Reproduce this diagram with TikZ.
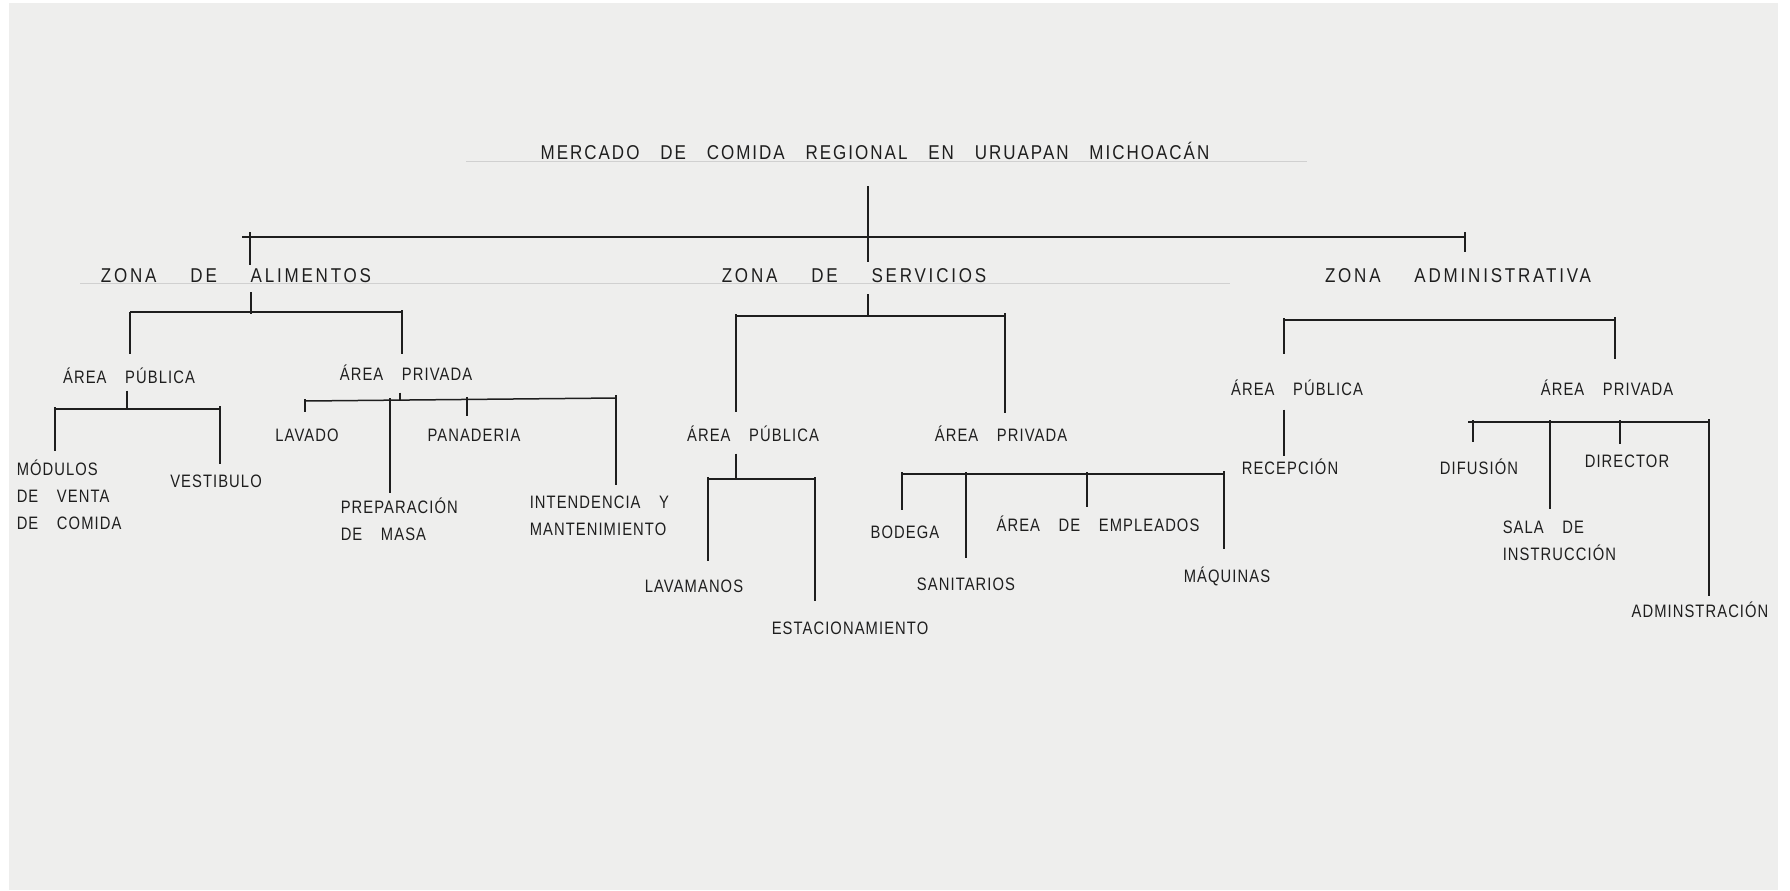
\documentclass[tikz,border=0pt]{standalone}
\usepackage{fontspec}
\setmainfont{Liberation Sans}[FakeStretch=0.82, LetterSpace=6, WordSpace=3.6]
\newfontfamily\handtitle{Liberation Sans}[FakeStretch=0.85, LetterSpace=10, WordSpace=3.1]
\newfontfamily\handwide{Liberation Sans}[FakeStretch=0.85, LetterSpace=14, WordSpace=4.5]
\definecolor{paper}{RGB}{238,238,237}
\definecolor{ink}{RGB}{30,30,30}
\definecolor{guide}{RGB}{208,208,208}
\tikzset{
  lbl/.style={inner sep=0pt, text height=6.45pt, text depth=0pt, text=ink, font=\fontsize{9}{13.5}\selectfont},
  multi/.style={inner sep=0pt, anchor=north west, align=left, text=ink, font=\fontsize{9}{13.5}\selectfont},
  head/.style={inner sep=0pt, text height=7.1pt, text depth=0pt, text=ink, font=\handwide\fontsize{10}{12}\selectfont},
  title/.style={head, font=\handtitle\fontsize{10}{12}\selectfont},
  lift/.style={shorten >=#1},
  drop/.style={shorten <=#1},
}
\begin{document}
\begin{tikzpicture}[x=0.5pt, y=-0.5pt, line width=0.75pt, draw=ink]
  % paper
  \fill[white] (0,0) rectangle (1790,890);
  \fill[paper] (9,3) rectangle (1778,890);
  \useasboundingbox (0,0) rectangle (1790,890);
  % pencil guides
  \draw[guide, line width=0.5pt] (466,161) -- (1307,161);
  \draw[guide, line width=0.5pt] (80,283) -- (1230,283);

  \draw
    (875,152) node[title] (t){MERCADO DE COMIDA REGIONAL EN URUAPAN MICHOACÁN}
    (236,275) node[head] (za){ZONA DE ALIMENTOS}
    (854,275) node[head] (zs){ZONA DE SERVICIOS}
    (1458,275) node[head] (zd){ZONA ADMINISTRATIVA}
    % alimentos
    (129,377) node[lbl] (apub){ÁREA PÚBLICA}
    (406,374) node[lbl] (apri){ÁREA PRIVADA}
    (16,459) node[multi] (mod){MÓDULOS\\DE VENTA\\DE COMIDA}
    (216,481) node[lbl] (vest){VESTIBULO}
    (307,435) node[lbl] (lav){LAVADO}
    (474,435) node[lbl] (pan){PANADERIA}
    (340,497) node[multi] (prep){PREPARACIÓN\\DE MASA}
    (529,495) node[multi] (int){INTENDENCIA Y\\MANTENIMIENTO}
    % servicios
    (753,435) node[lbl] (spub){ÁREA PÚBLICA}
    (1001,435) node[lbl] (spri){ÁREA PRIVADA}
    (694,586) node[lbl] (lavm){LAVAMANOS}
    (850,628) node[lbl] (est){ESTACIONAMIENTO}
    (905,532) node[lbl] (bod){BODEGA}
    (966,584) node[lbl] (san){SANITARIOS}
    (1098,525) node[lbl] (emp){ÁREA DE EMPLEADOS}
    (1227,576) node[lbl] (maq){MÁQUINAS}
    % administrativa
    (1297,389) node[lbl] (dpub){ÁREA PÚBLICA}
    (1607,389) node[lbl] (dpri){ÁREA PRIVADA}
    (1290,468) node[lbl] (rec){RECEPCIÓN}
    (1479,468) node[lbl] (dif){DIFUSIÓN}
    (1627,461) node[lbl] (dir){DIRECTOR}
    (1502,520) node[multi] (sala){SALA DE\\INSTRUCCIÓN}
    (1700,611) node[lbl] (adm){ADMINSTRACIÓN};

  % junctions on the bars
  \coordinate (tl) at (242,237);  \coordinate (tr) at (1465,237);
  \coordinate (ta) at (250,237);  \coordinate (r) at (868,237);
  \coordinate (al) at (130,312);  \coordinate (am) at (251,312);  \coordinate (ar) at (402,312);
  \coordinate (pl) at (55,409);   \coordinate (pm) at (127,409);  \coordinate (pr) at (220,409);
  \coordinate (ql) at (305,401);  \coordinate (qp) at (390,400);  \coordinate (qm) at (400,400);
  \coordinate (qn) at (467,399);  \coordinate (qr) at (616,398);
  \coordinate (sl) at (736,316);  \coordinate (sm) at (868,316);  \coordinate (sr) at (1005,316);
  \coordinate (ul) at (708,479);  \coordinate (um) at (736,479);  \coordinate (ur) at (815,479);
  \coordinate (vl) at (902,474);  \coordinate (vs) at (966,474);
  \coordinate (ve) at (1087,474); \coordinate (vr) at (1224,474);
  \coordinate (dl) at (1284,320); \coordinate (dr) at (1615,320);
  \coordinate (el) at (1468,422); \coordinate (ef) at (1473,422);
  \coordinate (es) at (1550,422); \coordinate (ed) at (1620,422); \coordinate (er) at (1709,422);

  \begin{scope}[-]
    % top level
    \draw[drop=13.25pt, lift=2.75pt] (r |- t.south) -- (r |- zs.north);
    \draw (tl) -- (tr);
    \draw[lift=1.25pt] ([yshift=2.5pt]ta) -- (ta |- za.north);
    \draw[lift=7.75pt] ([yshift=2.5pt]tr) -- (tr |- zd.north);
    % zona de alimentos
    \draw[drop=4.75pt] (am |- za.south) -- ([yshift=-1pt]am);
    \draw (al) -- (ar);
    \draw[lift=7.75pt] (al) -- (al |- apub.north);
    \draw[lift=6.25pt] ([yshift=1pt]ar) -- (ar |- apri.north);
    \draw[drop=3.25pt] (pm |- apub.south) -- (pm);
    \draw (pl) -- (pr);
    \draw[lift=4.25pt] ([yshift=1pt]pl) -- (pl |- mod.north);
    \draw[lift=4.75pt] ([yshift=1.5pt]pr) -- (pr |- vest.north);
    \draw[drop=5.75pt] (qm |- apri.south) -- (qm);
    \draw (ql) -- (qr);
    \draw[lift=7.75pt] ([yshift=1pt]ql) -- (ql |- lav.north);
    \draw[lift=2.25pt] ([yshift=1pt]qp) -- (qp |- prep.north);
    \draw[lift=5.75pt] ([yshift=1pt]qn) -- (qn |- pan.north);
    \draw[lift=5.25pt] ([yshift=1.5pt]qr) -- (qr |- int.north);
    % zona de servicios
    \draw[drop=5.75pt] (sm |- zs.south) -- (sm);
    \draw (sl) -- (sr);
    \draw[lift=7.75pt] ([yshift=1pt]sl) -- (sl |- spub.north);
    \draw[lift=7.25pt] ([yshift=1.5pt]sr) -- (sr |- spri.north);
    \draw[drop=5.75pt] (um |- spub.south) -- (um);
    \draw (ul) -- (ur);
    \draw[lift=8.75pt] ([yshift=1pt]ul) -- (ul |- lavm.north);
    \draw[lift=9.75pt] ([yshift=1pt]ur) -- (ur |- est.north);
    \draw (vl) -- (vr);
    \draw[lift=7.25pt] ([yshift=1pt]vl) -- (vl |- bod.north);
    \draw[lift=9.25pt] ([yshift=1pt]vs) -- (vs |- san.north);
    \draw[lift=5.25pt] ([yshift=1pt]ve) -- (ve |- emp.north);
    \draw[lift=9.75pt] ([yshift=1.5pt]vr) -- (vr |- maq.north);
    % zona administrativa
    \draw (dl) -- (dr);
    \draw[lift=13.75pt] ([yshift=1pt]dl) -- (dl |- dpub.north);
    \draw[lift=11.25pt] ([yshift=1.5pt]dr) -- (dr |- dpri.north);
    \draw[drop=6.75pt, lift=2.25pt] (dl |- dpub.south) -- (dl |- rec.north);
    \draw (el) -- (er);
    \draw[lift=9.25pt] ([yshift=1pt]ef) -- (ef |- dif.north);
    \draw[lift=5.75pt] ([yshift=1pt]es) -- (es |- sala.north);
    \draw[lift=4.75pt] ([yshift=1pt]ed) -- (ed |- dir.north);
    \draw[lift=3.75pt] ([yshift=1.5pt]er) -- (er |- adm.north);
  \end{scope}
\end{tikzpicture}
\end{document}
